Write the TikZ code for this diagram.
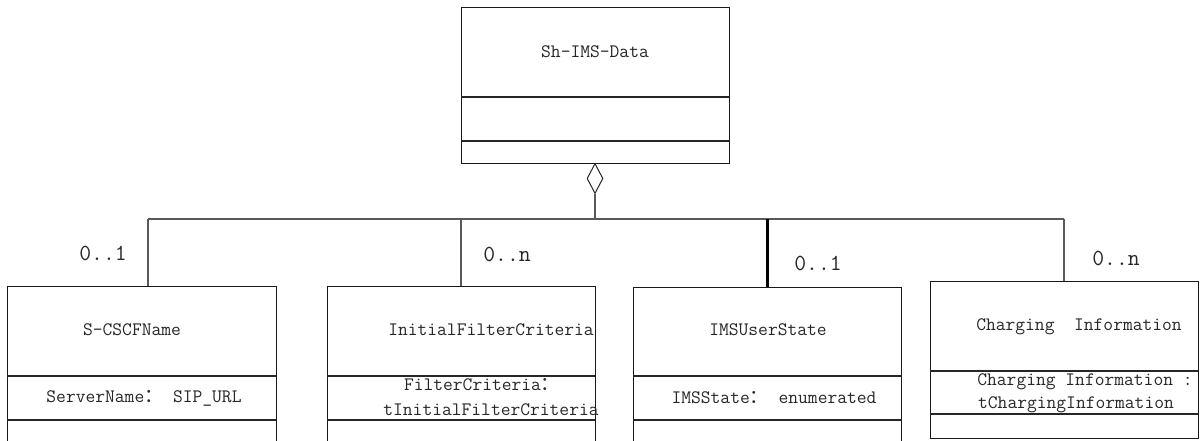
\documentclass[tikz,border=0pt]{standalone}
\usepackage{fontspec}
\newfontfamily\cjk{Noto Sans CJK SC}
\usetikzlibrary{shapes.geometric}
\begin{document}
\begin{tikzpicture}[x=1pt,y=-1pt,
  cls/.style={draw=black!90, line width=1.3pt, inner sep=0pt, anchor=north west, minimum width=268pt},
  sep/.style={line width=1.3pt, draw=black!85},
  txt/.style={font=\fontsize{19}{24}\selectfont\ttfamily, inner sep=0pt, text=black!85, align=center},
  mult/.style={font=\fontsize{23}{26}\selectfont\ttfamily, inner sep=0pt, text=black!85},
  link/.style={line width=1.3pt, draw=black!65}]
\useasboundingbox (0,0) rectangle (1200,440);
\clip (0,0) rectangle (1200,440);
% top class
\node[cls, minimum height=156pt] (top) at (461,7) {};
\draw[sep] (461,97) -- (729,97);
\draw[sep] (461,141) -- (729,141);
\node[txt] (topname) at (595,52) {Sh-IMS-Data};
% aggregation diamond
\node[diamond, draw=black!85, line width=1pt, minimum width=16pt, minimum height=30pt, inner sep=0pt, anchor=north] (agg) at (595,163) {};
% classes
\node[cls, minimum width=269pt, minimum height=170pt] (b1) at (7,286) {};
\draw[sep] (7,376) -- (276,376);
\draw[sep] (7,420) -- (276,420);
\node[txt] (n1) at (132,330) {S-CSCFName};
\node[txt] (a1) at (144,398) {ServerName{\cjk ：} SIP\_URL};

\node[cls, minimum height=170pt] (b2) at (327,286) {};
\draw[sep] (327,376) -- (595,376);
\draw[sep] (327,420) -- (595,420);
\node[txt] (n2) at (491,330) {InitialFilterCriteria};
\node[txt] (a2a) at (482,385) {FilterCriteria{\cjk ：}};
\node[txt] (a2b) at (491,410) {tInitialFilterCriteria};

\node[cls, minimum height=170pt] (b3) at (633,287) {};
\draw[sep] (633,376) -- (901,376);
\draw[sep] (633,420) -- (901,420);
\node[txt] (n3) at (768,330) {IMSUserState};
\node[txt] (a3) at (774,398) {IMSState{\cjk ：} enumerated};

\node[cls, minimum height=157pt] (b4) at (930,281) {};
\draw[sep] (930,371) -- (1198,371);
\draw[sep] (930,414) -- (1198,414);
\node[txt] (n4) at (1079,327) {Charging\ \ Information};
\node[txt] (a4a) at (1085,382) {Charging Information :};
\node[txt] (a4b) at (1076,405) {tChargingInformation};
% bus and links
\coordinate (jc) at (595,219);
\coordinate (j1) at (148,219);
\coordinate (j2) at (461,219);
\coordinate (j3) at (767,219);
\coordinate (j4) at (1064,219);
\draw[link] (agg.south) -- (jc);
\draw[link] (j1) -- (j4);
\draw[link] (j1) -- (j1 |- b1.north);
\draw[link] (j2) -- (j2 |- b2.north);
\draw[line width=3pt, draw=black] (j3) -- (j3 |- b3.north);
\draw[link] (j4) -- (j4 |- b4.north);
% multiplicities
\node[mult] (m1) at (103,253) {0..1};
\node[mult] (m2) at (507,254) {0..n};
\node[mult] (m3) at (818,263) {0..1};
\node[mult] (m4) at (1116,258) {0..n};
\end{tikzpicture}
\end{document}
